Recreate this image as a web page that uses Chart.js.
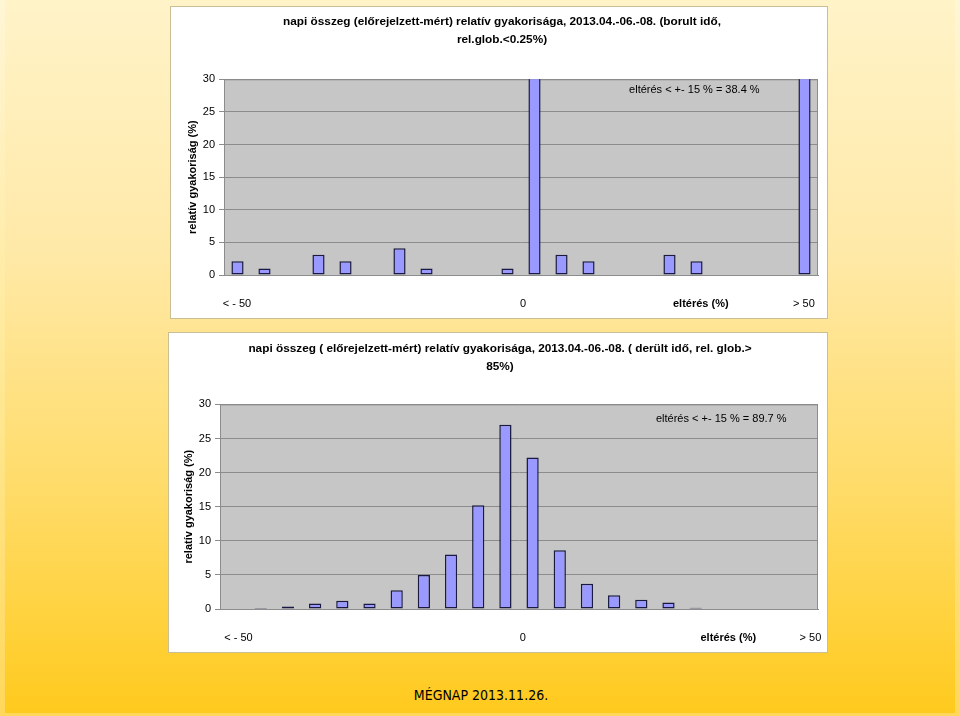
<!DOCTYPE html>
<html>
<head>
<meta charset="utf-8">
<script src="https://cdn.jsdelivr.net/npm/chart.js@4"></script>
<style>
    body { margin: 0; width: 960px; height: 716px; background: linear-gradient(#FFF6D6, #FFE68C 60%, #FFD75A); position: relative; overflow: hidden; }
    .bg { position: absolute; left: 5px; top: 0; width: 950px; height: 713px; background: linear-gradient(#FFF3C8 0%, #FFE9A8 35%, #FFDB66 70%, #FFCA1E 100%); }
    .panel { position: absolute; background: #fff; border: 1px solid #C9BE96; box-sizing: border-box; }
    .footer { position: absolute; left: 0; top: 687px; width: 962px; text-align: center; font: 14px "DejaVu Sans Condensed", sans-serif; color: #000; }
</style>
</head>
<body>
<div class="bg"></div>
<div class="panel" style="left:170px; top:6px; width:658px; height:313px;"><canvas id="chartTop" width="656" height="311"></canvas></div>
<div class="panel" style="left:168px; top:332px; width:660px; height:321px;"><canvas id="chartBottom" width="658" height="319"></canvas></div>
<div class="footer">MÉGNAP 2013.11.26.</div>

<script>
// bins of the deviation (%), 5% wide, plus the two open ends
const categories = ["< -50", "-45", "-40", "-35", "-30", "-25", "-20", "-15", "-10", "-5", "0",
    "5", "10", "15", "20", "25", "30", "35", "40", "45", "50", "> 50"];

// overcast days (rel.glob. < 0.25%)
const overcastValues = [2.1, 1.0, 0, 3.1, 2.1, 0, 4.1, 1.0, 0, 0, 1.0,
    32.3, 3.1, 2.1, 0, 0, 3.1, 2.1, 0, 0, 0, 42.9];

// clear days (rel.glob. > 85%)
const clearValues = [0, 0.15, 0.35, 0.8, 1.2, 0.8, 2.75, 5.0, 8.0, 15.2, 27.0,
    22.2, 8.6, 3.7, 2.0, 1.35, 0.95, 0.2, 0, 0, 0, 0];

const yTicks = [0, 5, 10, 15, 20, 25, 30];
const xLabelText = ["< - 50", "0", "eltérés (%)", "> 50"];

const topTitle = ["napi összeg (előrejelzett-mért) relatív gyakorisága, 2013.04.-06.-08. (borult idő,", "rel.glob.<0.25%)"];
const bottomTitle = ["napi összeg ( előrejelzett-mért) relatív gyakorisága, 2013.04.-06.-08. ( derült idő, rel. glob.>", "85%)"];
const topNote = "eltérés < +- 15 % = 38.4 %";
const bottomNote = "eltérés < +- 15 % = 89.7 %";

const FONT = "'Liberation Sans', Arial, sans-serif";

// grey plot area with a thin frame
const plotAreaPlugin = {
    id: "plotArea",
    beforeDraw(chart) {
        const { ctx, chartArea: a } = chart;
        ctx.save();
        ctx.fillStyle = "#C6C6C6";
        ctx.fillRect(a.left, a.top, a.right - a.left, a.bottom - a.top);
        ctx.restore();
    },
    beforeDatasetsDraw(chart) {
        const { ctx, chartArea: a } = chart;
        ctx.save();
        ctx.strokeStyle = "#8C8C8C";
        ctx.lineWidth = 1;
        ctx.strokeRect(a.left + 0.5, a.top + 0.5, a.right - a.left - 1, a.bottom - a.top);
        ctx.restore();
    }
};

// the "eltérés < +- 15 %" text inside the plot
const notePlugin = {
    id: "note",
    afterDraw(chart, args, opts) {
        const ctx = chart.ctx;
        ctx.save();
        ctx.font = "11px " + FONT;
        ctx.fillStyle = "#000";
        ctx.textAlign = "center";
        ctx.textBaseline = "middle";
        ctx.fillText(opts.text, chart.scales.x2.getPixelForValue(opts.x), chart.scales.y.getPixelForValue(opts.y));
        ctx.restore();
    }
};

function makeChart(id, values, title, titlePad, leftPad, labelPos, note) {
    return new Chart(document.getElementById(id), {
        type: "bar",
        data: {
            labels: categories,
            datasets: [{
                data: values,
                backgroundColor: "#9999FF",
                borderColor: "#1A1A40",
                borderWidth: 1.5,
                borderSkipped: false,
                barPercentage: 0.9,
                categoryPercentage: 0.5
            }]
        },
        options: {
            responsive: false,
            animation: false,
            layout: { padding: { left: leftPad, right: 9, top: 0, bottom: 0 } },
            plugins: {
                legend: { display: false },
                tooltip: { enabled: false },
                title: {
                    display: true,
                    text: title,
                    color: "#000",
                    font: { family: FONT, size: 11.8, weight: "bold", lineHeight: titlePad.line },
                    padding: { top: titlePad.top, bottom: titlePad.bottom }
                },
                note: note
            },
            scales: {
                x: { display: false },
                x2: {
                    type: "linear",
                    position: "bottom",
                    offset: false,
                    min: -55,
                    max: 55,
                    grid: { display: false, offset: false },
                    border: { display: true, color: "#8C8C8C" },
                    afterBuildTicks: scale => { scale.ticks = labelPos.map(v => ({ value: v })); },
                    afterFit: scale => {
                        scale.height = 43;
                        scale.paddingLeft = 0;
                        scale.paddingRight = 0;
                    },
                    ticks: {
                        autoSkip: false,
                        maxRotation: 0,
                        padding: 14,
                        color: "#000",
                        font: c => ({ family: FONT, size: 11, weight: c.index === 2 ? "bold" : "normal" }),
                        callback: (value, index) => xLabelText[index]
                    }
                },
                y: {
                    min: 0,
                    max: 30,
                    afterBuildTicks: scale => { scale.ticks = yTicks.map(v => ({ value: v })); },
                    afterFit: scale => { scale.width = 38; },
                    grid: { color: "#8C8C8C", tickLength: 5, tickColor: "#8C8C8C" },
                    border: { color: "#8C8C8C" },
                    ticks: { padding: 4, color: "#000", font: { family: FONT, size: 11 } },
                    title: {
                        display: true,
                        text: "relatív gyakoriság (%)",
                        color: "#000",
                        padding: 0,
                        font: { family: FONT, size: 11, weight: "bold" }
                    }
                }
            }
        },
        plugins: [plotAreaPlugin, notePlugin]
    });
}

makeChart("chartTop", overcastValues, topTitle, { top: 5, bottom: 30, line: 1.58 }, 15,
    [-52.6, 0.4, 33.3, 52.4], { text: topNote, x: 32.1, y: 28.3 });
makeChart("chartBottom", clearValues, bottomTitle, { top: 7, bottom: 29, line: 1.5 }, 13,
    [-51.6, 0.7, 38.5, 53.6], { text: bottomNote, x: 37.2, y: 27.8 });
</script>
</body>
</html>
